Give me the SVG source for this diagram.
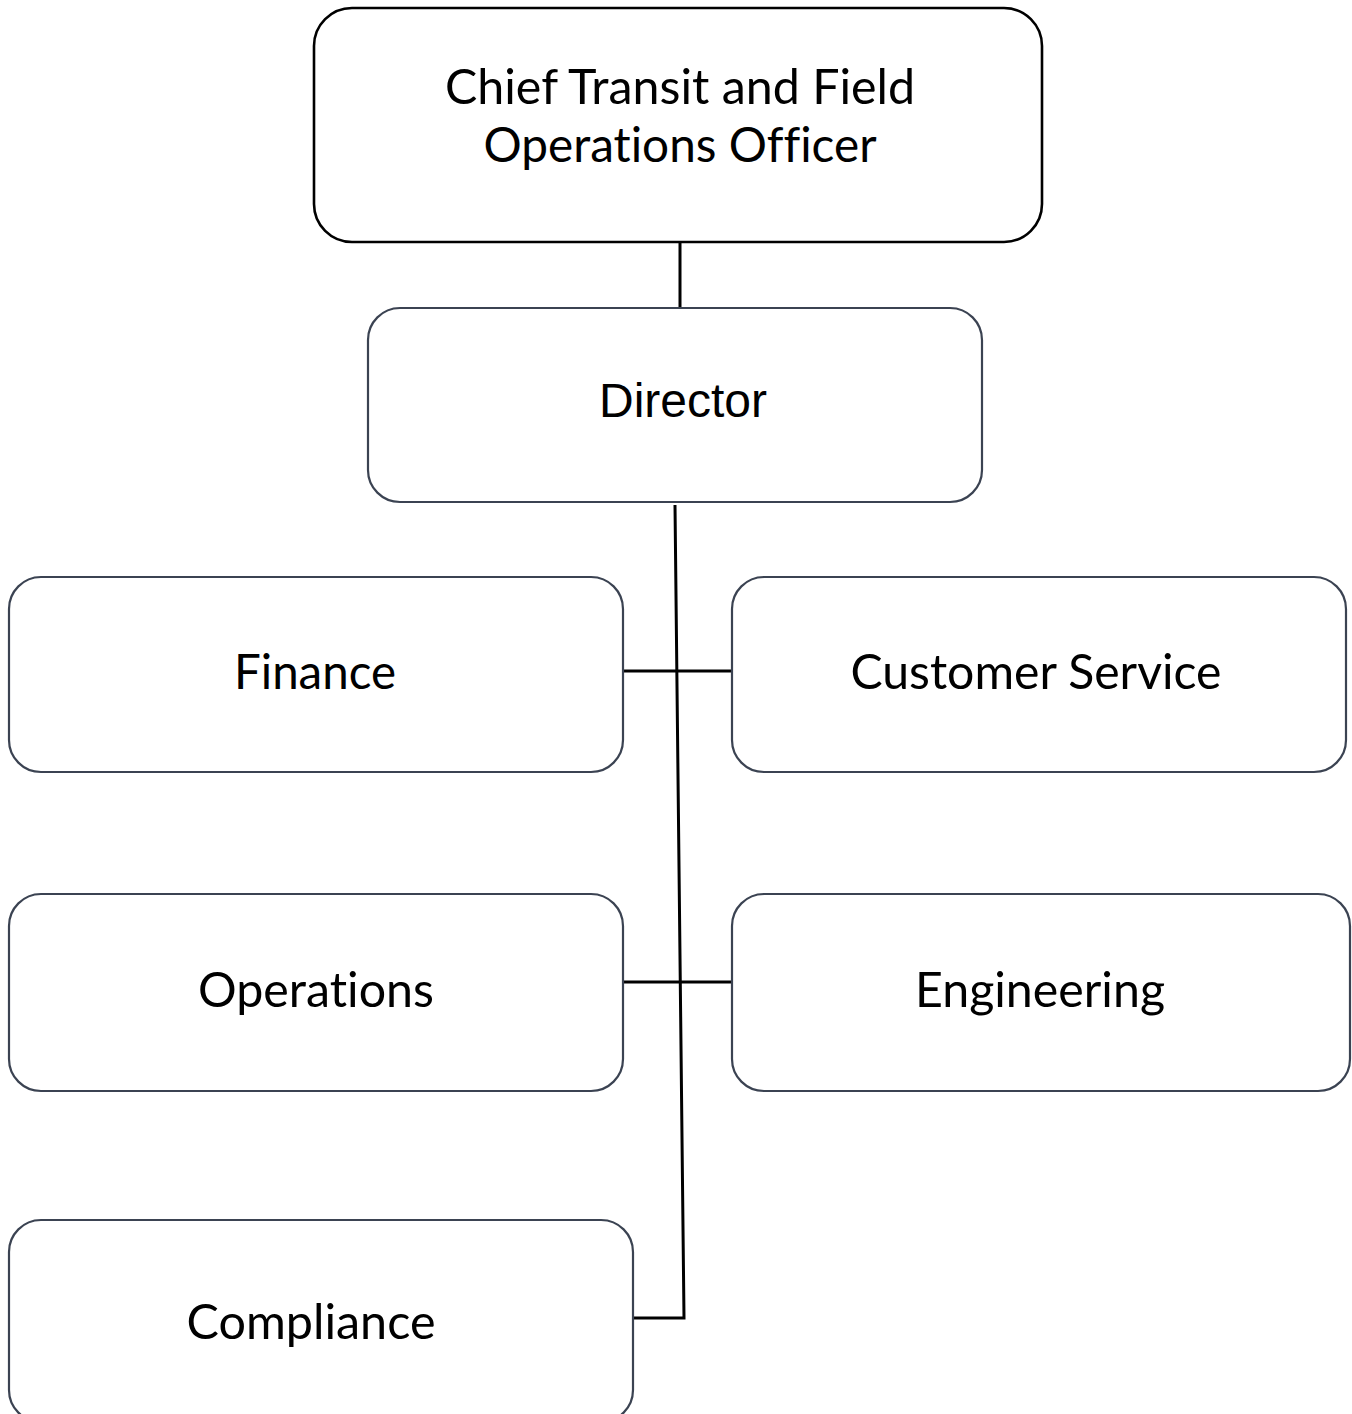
<svg xmlns="http://www.w3.org/2000/svg" width="1352" height="1414" viewBox="0 0 1352 1414">
<style>
.box{fill:#fff;stroke:#3b4352;stroke-width:2.2}
.top{fill:#fff;stroke:#000;stroke-width:2.6}
.c{font-family:Lato,"Open Sans",sans-serif;font-size:48px;fill:#000;text-anchor:middle;font-variant-ligatures:none;font-feature-settings:"liga" 0,"dlig" 0}
.a{font-family:"Liberation Sans",Arial,sans-serif;font-size:48px;fill:#000;text-anchor:middle}
.ln{stroke:#000;stroke-width:3;fill:none}
</style>
<rect width="1352" height="1414" fill="#fff"/>
<g id="connectors">
<line class="ln" x1="680" y1="242" x2="680" y2="308"/>
<polyline class="ln" points="675,505 684,1318 633,1318"/>
<line class="ln" x1="623" y1="671" x2="732" y2="671"/>
<line class="ln" x1="617" y1="982" x2="737" y2="982"/>
</g>
<g id="chief">
<rect class="top" x="314" y="8" width="728" height="234" rx="38"/>
<text class="c"><tspan x="680" y="104" textLength="470" lengthAdjust="spacingAndGlyphs">Chief Transit and Field</tspan><tspan x="680" y="162" textLength="393" lengthAdjust="spacingAndGlyphs">Operations Officer</tspan></text>
</g>
<g id="director">
<rect class="box" x="368" y="308" width="614" height="194" rx="32"/>
<text class="a" x="683" y="417">Director</text>
</g>
<g id="finance">
<rect class="box" x="9" y="577" width="614" height="195" rx="32"/>
<text class="c" x="315" y="689" textLength="162" lengthAdjust="spacingAndGlyphs">Finance</text>
</g>
<g id="customer-service">
<rect class="box" x="732" y="577" width="614" height="195" rx="32"/>
<text class="c" x="1036" y="689" textLength="371" lengthAdjust="spacingAndGlyphs">Customer Service</text>
</g>
<g id="operations">
<rect class="box" x="9" y="894" width="614" height="197" rx="32"/>
<text class="c" x="316" y="1007" textLength="236" lengthAdjust="spacingAndGlyphs">Operations</text>
</g>
<g id="engineering">
<rect class="box" x="732" y="894" width="618" height="197" rx="32"/>
<text class="c" x="1040" y="1007" textLength="250" lengthAdjust="spacingAndGlyphs">Engineering</text>
</g>
<g id="compliance">
<rect class="box" x="9" y="1220" width="624" height="202" rx="32"/>
<text class="c" x="311" y="1339" textLength="249" lengthAdjust="spacingAndGlyphs">Compliance</text>
</g>
</svg>
